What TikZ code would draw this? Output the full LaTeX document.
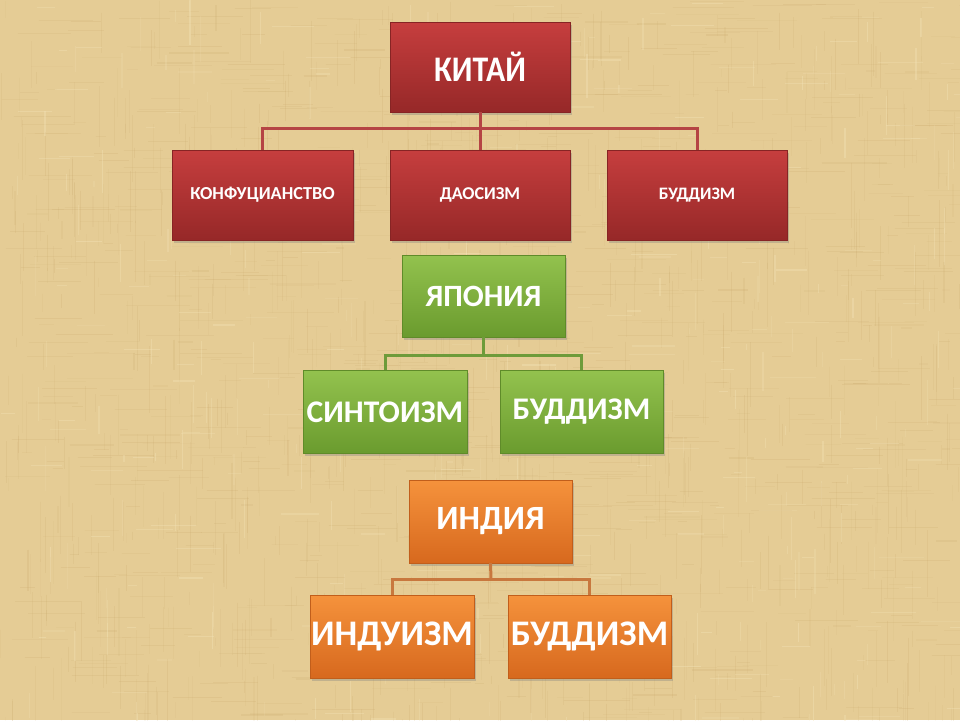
\documentclass[tikz,border=0pt]{standalone}
\usepackage{fontspec}
\setmainfont{Carlito}
\usetikzlibrary{shadows}
\definecolor{bgbase}{HTML}{E5CC95}
\definecolor{bgdark}{HTML}{C4A264}
\definecolor{bglight}{HTML}{F4E4B8}
\definecolor{redtop}{HTML}{C63E3E}
\definecolor{redbot}{HTML}{962828}
\definecolor{redline}{HTML}{B54444}
\definecolor{grntop}{HTML}{93C24E}
\definecolor{grnbot}{HTML}{6A9B2E}
\definecolor{grnline}{HTML}{6E9B3A}
\definecolor{orntop}{HTML}{F5923C}
\definecolor{ornbot}{HTML}{D7691E}
\definecolor{ornline}{HTML}{C8783E}
\tikzset{
  box/.style={rectangle, text=white, font=\bfseries, inner sep=0pt,
    drop shadow={opacity=0.35, shadow xshift=2pt, shadow yshift=-2.5pt}},
  redbox/.style={box, top color=redtop, bottom color=redbot, draw=redbot!90!black, line width=0.4pt},
  grnbox/.style={box, top color=grntop, bottom color=grnbot, draw=grnbot!90!black, line width=0.4pt},
  ornbox/.style={box, top color=orntop, bottom color=ornbot, draw=ornbot!90!black, line width=0.4pt},
  redlink/.style={draw=redline, line width=3pt},
  grnlink/.style={draw=grnline, line width=3pt},
  ornlink/.style={draw=ornline, line width=3pt},
}
\begin{document}
\begin{tikzpicture}[x=1pt,y=-1pt]
% background
\fill[bgbase] (0,0) rectangle (960,720);
\useasboundingbox (0,0) rectangle (960,720);
\pgfmathsetseed{11}
\begin{scope}
\clip (0,0) rectangle (960,720);
\foreach \i in {1,...,900}{
  \pgfmathsetmacro{\xx}{rnd*960}
  \pgfmathsetmacro{\yy}{rnd*720}
  \pgfmathsetmacro{\ll}{8+rnd*60}
  \pgfmathsetmacro{\op}{0.06+rnd*0.12}
  \pgfmathsetmacro{\lw}{0.4+rnd*1.0}
  \draw[bgdark, opacity=\op, line width=\lw pt] (\xx,\yy) -- ++(0,\ll);
}
\foreach \i in {1,...,800}{
  \pgfmathsetmacro{\xx}{rnd*960}
  \pgfmathsetmacro{\yy}{rnd*720}
  \pgfmathsetmacro{\ll}{8+rnd*60}
  \pgfmathsetmacro{\op}{0.06+rnd*0.12}
  \pgfmathsetmacro{\lw}{0.4+rnd*1.0}
  \draw[bgdark, opacity=\op, line width=\lw pt] (\xx,\yy) -- ++(\ll,0);
}
\foreach \i in {1,...,400}{
  \pgfmathsetmacro{\xx}{rnd*960}
  \pgfmathsetmacro{\yy}{rnd*720}
  \pgfmathsetmacro{\ll}{6+rnd*40}
  \pgfmathsetmacro{\op}{0.15+rnd*0.25}
  \pgfmathsetmacro{\lw}{0.5+rnd*1.0}
  \ifodd\i
    \draw[bglight, opacity=\op, line width=\lw pt] (\xx,\yy) -- ++(0,\ll);
  \else
    \draw[bglight, opacity=\op, line width=\lw pt] (\xx,\yy) -- ++(\ll,0);
  \fi
}
\end{scope}

% connector junctions
\coordinate (cb) at (480,128);
\coordinate (jb) at (483.5,355);
\coordinate (ib) at (491,579);

% China
\node[redbox, minimum width=180pt, minimum height=90pt, font=\bfseries\fontsize{36}{38}\selectfont] (china) at (480,67) {\scalebox{0.88}[1]{КИТАЙ}};
\node[redbox, minimum width=181pt, minimum height=90pt, font=\bfseries\fontsize{18.3}{20}\selectfont] (conf) at (262.5,195) {КОНФУЦИАНСТВО};
\node[redbox, minimum width=180pt, minimum height=90pt, font=\bfseries\fontsize{18}{20}\selectfont] (dao) at (480,195) {ДАОСИЗМ};
\node[redbox, minimum width=180pt, minimum height=90pt, font=\bfseries\fontsize{17.5}{20}\selectfont] (bud1) at (697,195) {БУДДИЗМ};
\draw[redlink] (china.south) -- (dao.north);
\draw[redlink] (conf.north) |- (cb) -| (bud1.north);

% Japan
\node[grnbox, minimum width=163pt, minimum height=82pt, font=\bfseries\fontsize{31}{33}\selectfont] (japan) at (483.5,296) {ЯПОНИЯ};
\node[grnbox, minimum width=164pt, minimum height=83pt, font=\bfseries\fontsize{31.5}{33}\selectfont] (shin) at (385,412) {СИНТОИЗМ};
\node[grnbox, minimum width=163pt, minimum height=83pt, font=\bfseries\fontsize{31.5}{33}\selectfont] (bud2) at (581.5,412) {БУДДИЗМ};
\draw[grnlink] (japan.south) -- (jb);
\draw[grnlink] (shin.north) |- (jb) -| (bud2.north);

% India
\node[ornbox, minimum width=163pt, minimum height=83pt, font=\bfseries\fontsize{34}{36}\selectfont] (india) at (490.5,521.5) {ИНДИЯ};
\node[ornbox, minimum width=164pt, minimum height=83pt, font=\bfseries\fontsize{36}{38}\selectfont] (hindu) at (392,636.5) {ИНДУИЗМ};
\node[ornbox, minimum width=163pt, minimum height=83pt, font=\bfseries\fontsize{36}{38}\selectfont] (bud3) at (589.5,636.5) {БУДДИЗМ};
\draw[ornlink] (india.south) -- (ib);
\draw[ornlink] (hindu.north) |- (ib) -| (bud3.north);
\end{tikzpicture}
\end{document}
